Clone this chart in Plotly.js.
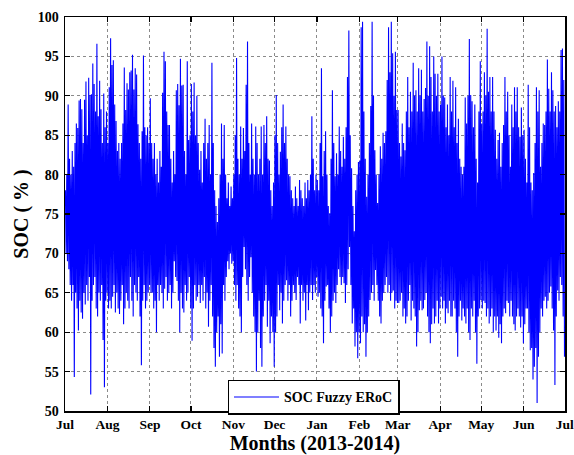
<!DOCTYPE html>
<html>
<head>
<meta charset="utf-8">
<script src="https://cdn.plot.ly/plotly-3.0.1.min.js"></script>
<style>
html,body{margin:0;padding:0;background:#fff;}
#chart{width:574px;height:455px;}
</style>
</head>
<body>
<div id="chart"></div>
<script>
// Daily charge peak (Hi) and discharge trough (Lo) of SOC (%)
var julHi = [78,80,88.9,82,80,83,81,84,86.5,85.9,89.4,89.6,88.3,84,89.5,91.8,85,92.3,90.1,90.2,94.1,91.5,88,96.6,87.4,91.9,88.3,84,90.3,86,88];
var julLo = [70,69,68,66,64,66,54.3,65,63,60.2,64,62.5,61.7,65,63.5,66,64,67,52.1,64,66,67,63,62,65,64,66,59,53,64,65];
var augHi = [84,91.1,97.3,93.9,94.5,88.9,86.8,83,84,82,84,86.5,93.6,88.2,91.6,90.8,93,93.2,95.2,90.8,93.5,92.7,86.4,84,82,85.5,95.1,86,85,86,84];
var augLo = [63,64,63,64.5,66,62.5,65,63,62.3,64,66,61,63,65,64,63,67,64,62,66,65,64,67,62,55.8,64,66,63,64,65,66];
var sepHi = [89.7,84,82,84,80,82,79,83,81,90.4,95.6,94.4,88,86.3,86.3,82,79,83,80,90.7,91.5,88.8,94.7,91.3,91.4,83,80,94.4,84.4,85];
var sepLo = [65,65,63,64,60,66,64,66,65,63,65.5,67,64,65,66,63,65,69,67,66.5,64,60,65,63,62.5,66,64,65,67,63];
var octHi = [91.5,88,91.7,85,90,84,80.6,83,79,84,87.1,82,84,86.3,80,94.2,84,78,76,74,77,80,86.5,82,86.3,80,77,79,76,78.5,77];
var octLo = [58.9,63,66,64,64.5,66,63.7,66,64,67,63,65,60.7,64,66,62,58,55.6,60,62,56.9,61,57.3,66,64,67,69,68,70,68.7,69];
var novHi = [80,85,94.8,82,80,86.1,82,85.9,83,91.4,96.9,84,80,86.5,82,80,86.1,84,80,82,86.1,80,86.3,84,87.4,82,81.8,78,76,79];
var novLo = [66,64,66,63,62,60,67,70.8,68,66,64,67,69.5,65,62,60,55,60,64,58,55.6,62,64,66,60.7,64,58.6,62,60,55.6];
var decHi = [85,90.1,84,80,82.9,86,88.9,84,86.1,82,80,79.8,78,77,76,78.5,77,76,79.3,78,77,76,79,77,79.3,78,80,87.4,82,78,80];
var decLo = [60,62,66,62.8,65,61.1,64,66,66.6,64,66,62,64,66,65,64.1,67,66,61.1,66,64,65,61.5,66,62.8,65,66,64.1,66,65,67];
var janHi = [79.3,78,84,93.5,79.8,83,85.5,80,76,75.1,82,90.7,84,79.8,82.7,80,86.1,83,81,84.8,82,86,92.4,98.3,85,80.8,76,72.8,78,80,81.6];
var janLo = [64.5,65,63,62,58.6,64,65.8,66,63,60,62,64,65,63.7,66,68,67,66,67,66.2,63.7,66,68,70.8,66,61.1,63,58.2,60,56.7,60];
var febHi = [81.8,98.7,99.4,88,82,77.2,80,84,88.7,99.4,90,83.1,80,76.4,80,83.6,82,85.3,84,85.5,92,98.7,93,99.4,95.4,90,95.6,88.2];
var febLo = [58.6,62,60,61,56.9,60,62,64.1,65,66,64,67.9,66,64,62,61.1,64,65,66,67,65,66,64,65,65.3,63,64,63.7];
var marHi = [88.2,84,82.3,86.5,84,83.1,88,92.4,86,90.5,88,94.2,90,90.7,88,93.5,90,93.3,88,89.6,91,96.9,90,96.3,92.4,88,95,92.8,90,92.8,88];
var marLo = [63.7,64,65,62,63,61.1,62,64,66,61.5,64,63,62,58.2,60,62.8,64,62.8,63,64.1,65,62,60,58.6,61,63,61.1,62,64,61.1,63];
var aprHi = [88.9,95,90,89.8,86,88.9,85,92.4,88,91.9,86,91.1,84,87.1,82,81,80,81,89.8,86.5,90,97.2,90.1,89.3,86,88.9,82,79,88,94.4];
var aprLo = [64.5,63,64,61.1,63,62.4,64,62,62,64,63,60,56.9,62,64,61.5,63,62,61.1,63,60,59,63,62,64,60,56,62,63,64.1];
var mayHi = [86.5,88,93,90,98.5,90.5,92.4,88,92.4,88,85.7,82,84.4,85.3,81,84,86.3,92.4,88,90.5,85,81,88.9,86,91.1,88,91.1,86,84.8,88.5,85];
var mayLo = [63,64,63.7,62,63,61.1,62,63,60,62,60.2,62,59.3,61,58.6,62,63,62.4,64,63.7,62,64,62,61,60.2,62,63,62,60.6,62,58.6];
var junHi = [85.7,82,79,91.4,86,79,78,80.2,84,91.1,88,90.7,81,84,86.5,86.3,88,94.6,90.9,88,93,90.7,88,88.7,86,89.3,88,95.8,96,92];
var junLo = [61,63,63,60,57.7,58,54,55.6,58,51,56.9,60,63,62,64,64.5,63,64,65,65.8,63,60.2,53.3,62,65.3,64,67,66,62,56.9];

var monthTicks = ['Jul','Aug','Sep','Oct','Nov','Dec','Jan','Feb','Mar','Apr','May','Jun','Jul'];
var tickDates = ['2013-07-01','2013-08-01','2013-09-01','2013-10-01','2013-11-01','2013-12-01',
                 '2014-01-01','2014-02-01','2014-03-01','2014-04-01','2014-05-01','2014-06-01','2014-07-01'];
var startDate = '2013-07-01';
var seriesName = 'SOC Fuzzy ERoC';

var hiAll = [].concat(julHi,augHi,sepHi,octHi,novHi,decHi,janHi,febHi,marHi,aprHi,mayHi,junHi);
var loAll = [].concat(julLo,augLo,sepLo,octLo,novLo,decLo,janLo,febLo,marLo,aprLo,mayLo,junLo);

function fmt(ms){ return new Date(ms).toISOString().slice(0,19).replace('T',' '); }
var base = Date.parse(startDate + 'T00:00:00Z');
var DAY = 86400000;
var xs = [], ys = [];
for (var i = 0; i < hiAll.length; i++) {
  xs.push(fmt(base + (i + 0.3) * DAY)); ys.push(hiAll[i]);
  xs.push(fmt(base + (i + 0.8) * DAY)); ys.push(loAll[i]);
}

var serif = 'Liberation Serif, Times New Roman, serif';
var trace = {
  x: xs, y: ys, type: 'scatter', mode: 'lines', name: seriesName,
  line: {color: '#0000ff', width: 1.1, simplify: false}
};

var axisCommon = {
  showline: true, linecolor: '#000', linewidth: 1.5, mirror: 'ticks',
  ticks: 'inside', ticklen: 5, tickwidth: 1.2, tickcolor: '#000',
  showgrid: true, gridcolor: '#8a8a8a', griddash: 'dot', gridwidth: 1,
  zeroline: false,
  ticklabeloverflow: 'allow',
  tickfont: {family: serif, size: 14, color: '#000', weight: 700}
};

var layout = {
  width: 574, height: 455,
  margin: {l: 65, r: 9, t: 17, b: 44},
  paper_bgcolor: '#fff', plot_bgcolor: '#fff',
  showlegend: true,
  xaxis: Object.assign({}, axisCommon, {
    type: 'date', range: [tickDates[0], tickDates[tickDates.length - 1] + ' 04:00'],
    tickmode: 'array', tickvals: tickDates, ticktext: monthTicks,
    ticklabelstandoff: 0,
    tickfont: {family: serif, size: 13.5, color: '#000', weight: 700},
    title: {text: 'Months (2013-2014)', font: {family: serif, size: 20, color: '#000', weight: 700}, standoff: 9}
  }),
  yaxis: Object.assign({}, axisCommon, {
    range: [50, 100], dtick: 5, tick0: 50,
    ticklabelstandoff: 2,
    title: {text: 'SOC ( % )', font: {family: serif, size: 20, color: '#000', weight: 700}, standoff: 3}
  }),
  legend: {
    x: 0.325, y: 0.079, xanchor: 'left', yanchor: 'top',
    bgcolor: '#fff', bordercolor: '#000', borderwidth: 1.5,
    font: {family: serif, size: 14, color: '#000', weight: 700},
    itemwidth: 45, entrywidth: 168, tracegroupgap: 0
  }
};

Plotly.newPlot('chart', [trace], layout, {displayModeBar: false, staticPlot: true});
</script>
</body>
</html>
